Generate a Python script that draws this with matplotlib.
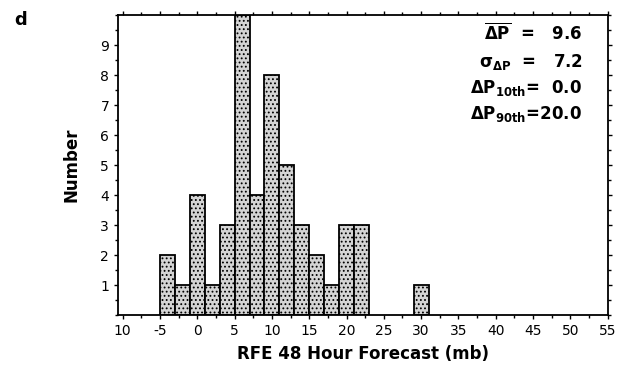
import matplotlib
matplotlib.use('Agg')
import matplotlib.pyplot as plt
from matplotlib.ticker import MultipleLocator

# histogram of RFE 48 h forecast pressure change, bins 2 mb wide
bin_centers = [-4, -2, 0, 2, 4, 6, 8, 10, 12, 14, 16, 18, 20, 22, 30]
counts = [2, 1, 4, 1, 3, 10, 4, 8, 5, 3, 2, 1, 3, 3, 1]
xtick_vals = [-10, -5, 0, 5, 10, 15, 20, 25, 30, 35, 40, 45, 50, 55]
xtick_labels = ['10', '-5', '0', '5', '10', '15', '20', '25', '30', '35', '40', '45', '50', '55']
ytick_vals = [1, 2, 3, 4, 5, 6, 7, 8, 9]
stats = [r'$\mathbf{\overline{\Delta P}}$  =   9.6',
         r'$\mathbf{\sigma_{\Delta P}}$  =   7.2',
         r'$\mathbf{\Delta P_{10th}}$=  0.0',
         r'$\mathbf{\Delta P_{90th}}$=20.0']

plt.rcParams['font.family'] = 'DejaVu Sans'
plt.rcParams['hatch.color'] = '#9a9a9a'
plt.rcParams['hatch.linewidth'] = 0.8
fig = plt.figure(figsize=(6.22, 3.71), dpi=100)
ax = fig.add_axes([0.19, 0.151, 0.787, 0.808])

ax.bar(bin_centers, counts, width=2, color='#d4d4d4', edgecolor='black',
       linewidth=1.3, hatch='....', zorder=2)

ax.set_xlim(-10.6, 55)
ax.set_ylim(0, 10)
ax.set_xticks(xtick_vals)
ax.set_xticklabels(xtick_labels)
ax.set_yticks(ytick_vals)
ax.xaxis.set_minor_locator(MultipleLocator(2.5))
ax.yaxis.set_minor_locator(MultipleLocator(0.5))
ax.tick_params(which='both', direction='out', top=True, right=True,
               labeltop=False, labelright=False, width=1, labelsize=10)
ax.tick_params(which='major', length=3)
ax.tick_params(which='minor', length=2)
for s in ax.spines.values():
    s.set_linewidth(1.3)

ax.set_xlabel('RFE 48 Hour Forecast (mb)', fontsize=12, fontweight='bold', labelpad=5)
ax.set_ylabel('Number', fontsize=12, fontweight='bold', labelpad=14)

ys = [33, 62, 88, 114]
for txt, y in zip(stats, ys):
    fig.text(582 / 622, 1 - y / 371, txt, ha='right', va='center',
             fontsize=12, fontweight='bold')

fig.text(14 / 622, 1 - 20 / 371, 'd', fontsize=13, fontweight='bold', va='center')

fig.savefig('out.png', dpi=100)
